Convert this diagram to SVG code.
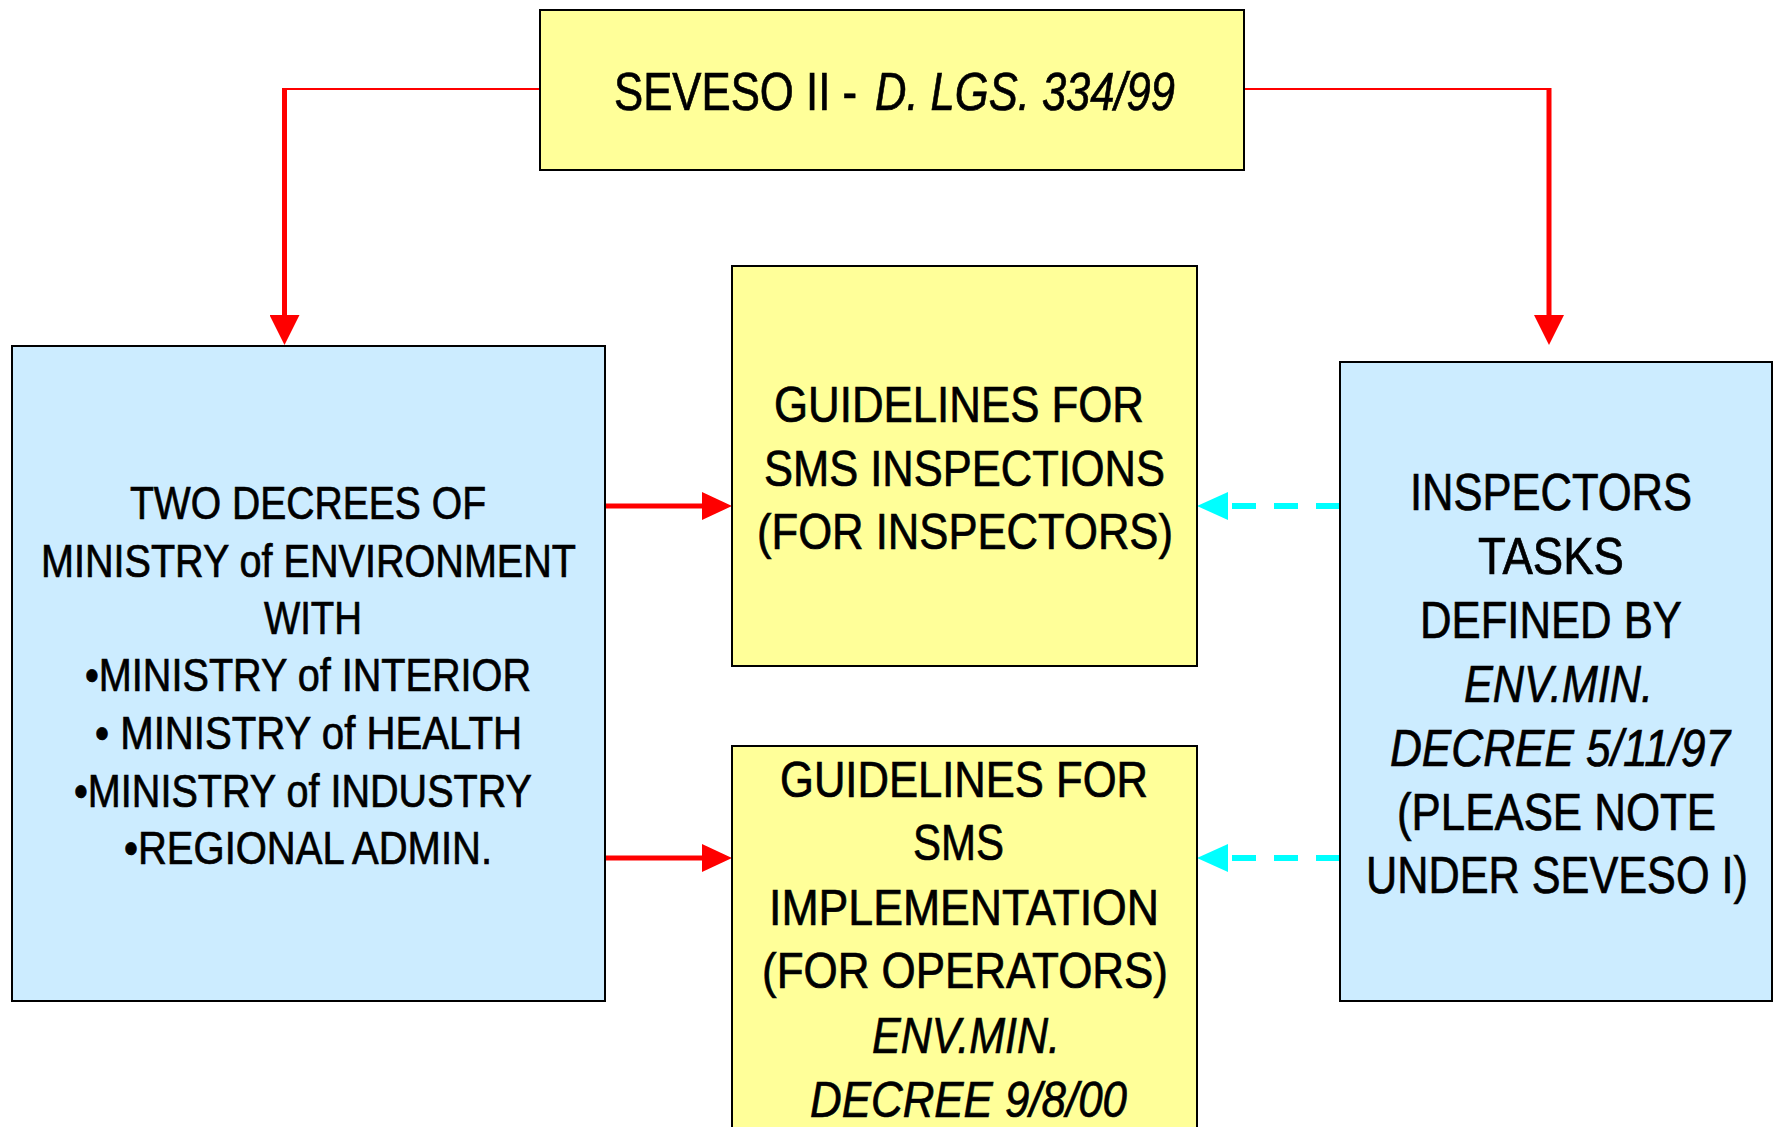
<svg xmlns="http://www.w3.org/2000/svg" width="1774" height="1127" viewBox="0 0 1774 1127">
<style>
.yellow{fill:#FFFF99;stroke:#000;stroke-width:2}
.blue{fill:#CCECFF;stroke:#000;stroke-width:2}
text{font-family:"Liberation Sans",Arial,sans-serif;fill:#000;stroke:#000;stroke-width:0.7}
.t46{font-size:46px}
.t50{font-size:50px}
.t52{font-size:52px}
.t53{font-size:53px}
.it{font-style:italic}
.red{stroke:#FF0000;fill:none}
.cyan{stroke:#00FFFF;fill:none;stroke-width:6;stroke-dasharray:24 18}
</style>
<defs>
<marker id="headV" markerUnits="userSpaceOnUse" viewBox="0 0 30 30" markerWidth="30" markerHeight="30" refX="0" refY="15" orient="auto"><path d="M0,0 L30,15 L0,30 Z" fill="#FF0000"/></marker>
<marker id="headH" markerUnits="userSpaceOnUse" viewBox="0 0 30 28" markerWidth="30" markerHeight="28" refX="0" refY="14" orient="auto"><path d="M0,0 L30,14 L0,28 Z" fill="#FF0000"/></marker>
<marker id="headC" markerUnits="userSpaceOnUse" viewBox="0 0 31 28" markerWidth="31" markerHeight="28" refX="0" refY="14" orient="auto"><path d="M0,0 L31,14 L0,28 Z" fill="#00FFFF"/></marker>
</defs>

<g id="connectors">
<path class="red" stroke-width="2" d="M540,89 H284"/>
<path class="red" stroke-width="5" d="M284.5,88 V315" marker-end="url(#headV)"/>
<path class="red" stroke-width="2" d="M1244,89 H1549"/>
<path class="red" stroke-width="5" d="M1549,88 V315" marker-end="url(#headV)"/>
<path class="red" stroke-width="5" d="M605,506 H702" marker-end="url(#headH)"/>
<path class="red" stroke-width="5" d="M605,858 H702" marker-end="url(#headH)"/>
<path class="cyan" d="M1340,506 H1228" marker-end="url(#headC)"/>
<path class="cyan" d="M1340,858 H1228" marker-end="url(#headC)"/>
</g>

<g id="seveso">
<rect class="yellow" x="540" y="10" width="704" height="160"/>
<text class="t53" y="110"><tspan x="614" textLength="243" lengthAdjust="spacingAndGlyphs">SEVESO II -</tspan><tspan class="it" x="875" textLength="300" lengthAdjust="spacingAndGlyphs">D. LGS. 334/99</tspan></text>
</g>

<g id="two-decrees">
<rect class="blue" x="12" y="346" width="593" height="655"/>
<text class="t46" x="130" y="519" textLength="356" lengthAdjust="spacingAndGlyphs">TWO DECREES OF</text>
<text class="t46" x="41" y="577" textLength="535" lengthAdjust="spacingAndGlyphs">MINISTRY of ENVIRONMENT</text>
<text class="t46" x="264" y="634" textLength="98" lengthAdjust="spacingAndGlyphs">WITH</text>
<text class="t46" x="85" y="691" textLength="446" lengthAdjust="spacingAndGlyphs">•MINISTRY of INTERIOR</text>
<text class="t46" x="95" y="749" textLength="427" lengthAdjust="spacingAndGlyphs">• MINISTRY of HEALTH</text>
<text class="t46" x="74" y="807" textLength="458" lengthAdjust="spacingAndGlyphs">•MINISTRY of INDUSTRY</text>
<text class="t46" x="124" y="864" textLength="368" lengthAdjust="spacingAndGlyphs">•REGIONAL ADMIN.</text>
</g>

<g id="guidelines-inspections">
<rect class="yellow" x="732" y="266" width="465" height="400"/>
<text class="t50" x="774" y="422" textLength="370" lengthAdjust="spacingAndGlyphs">GUIDELINES FOR</text>
<text class="t50" x="764" y="486" textLength="401" lengthAdjust="spacingAndGlyphs">SMS INSPECTIONS</text>
<text class="t50" x="757" y="549" textLength="416" lengthAdjust="spacingAndGlyphs">(FOR INSPECTORS)</text>
</g>

<g id="guidelines-implementation">
<rect class="yellow" x="732" y="746" width="465" height="400"/>
<text class="t50" x="780" y="797" textLength="368" lengthAdjust="spacingAndGlyphs">GUIDELINES FOR</text>
<text class="t50" x="913" y="860" textLength="91" lengthAdjust="spacingAndGlyphs">SMS</text>
<text class="t50" x="769" y="925" textLength="390" lengthAdjust="spacingAndGlyphs">IMPLEMENTATION</text>
<text class="t50" x="762" y="988" textLength="406" lengthAdjust="spacingAndGlyphs">(FOR OPERATORS)</text>
<text class="t50 it" x="872" y="1053" textLength="188" lengthAdjust="spacingAndGlyphs">ENV.MIN.</text>
<text class="t50 it" x="810" y="1117" textLength="317" lengthAdjust="spacingAndGlyphs">DECREE 9/8/00</text>
</g>

<g id="inspectors-tasks">
<rect class="blue" x="1340" y="362" width="432" height="639"/>
<text class="t52" x="1410" y="510" textLength="282" lengthAdjust="spacingAndGlyphs">INSPECTORS</text>
<text class="t52" x="1478" y="574" textLength="146" lengthAdjust="spacingAndGlyphs">TASKS</text>
<text class="t52" x="1420" y="638" textLength="262" lengthAdjust="spacingAndGlyphs">DEFINED BY</text>
<text class="t52 it" x="1464" y="702" textLength="189" lengthAdjust="spacingAndGlyphs">ENV.MIN.</text>
<text class="t52 it" x="1390" y="766" textLength="340" lengthAdjust="spacingAndGlyphs">DECREE 5/11/97</text>
<text class="t52" x="1397" y="830" textLength="319" lengthAdjust="spacingAndGlyphs">(PLEASE NOTE</text>
<text class="t52" x="1366" y="893" textLength="382" lengthAdjust="spacingAndGlyphs">UNDER SEVESO I)</text>
</g>
</svg>
